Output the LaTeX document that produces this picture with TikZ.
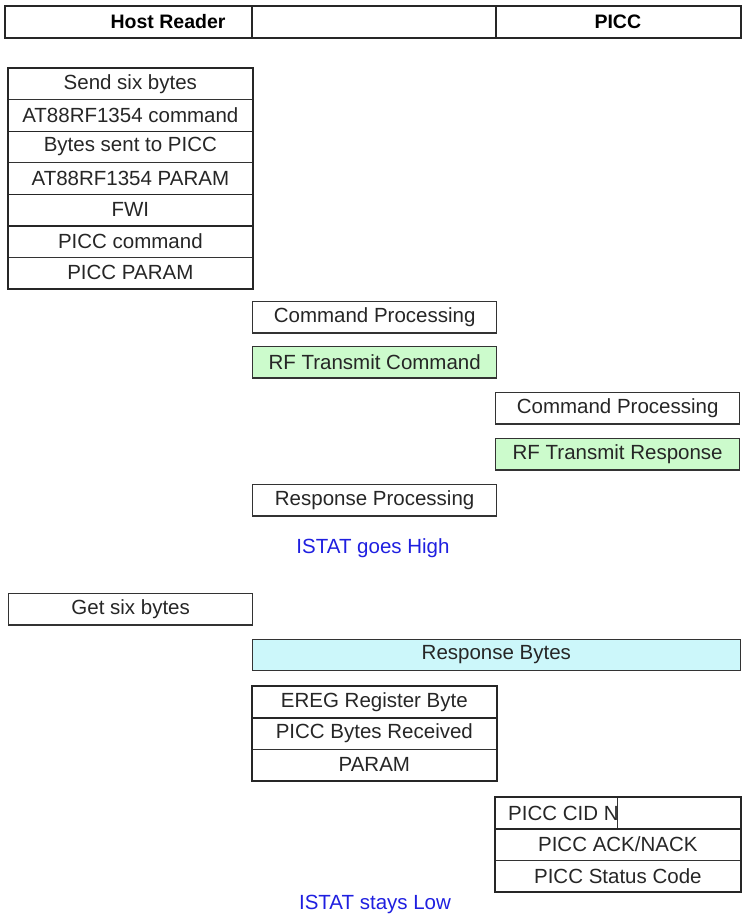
\documentclass[tikz,border=0pt]{standalone}
\usepackage{fontspec}
\setmainfont{Liberation Sans}
\begin{document}
\begin{tikzpicture}[x=1pt,y=-1pt,font=\fontsize{20.5}{23}\selectfont,
  cell/.style={draw=black!80,line width=0.7pt,anchor=north west,inner sep=0pt,
    minimum height=31.4pt,minimum width=244pt,text=black!85},
  widecell/.style={cell,minimum width=488pt},
  frame/.style={draw=black!85,line width=1.8pt},
  single/.style={cell,line width=1.3pt},
  note/.style={text=istat}]
  \definecolor{txgreen}{HTML}{CCFBCC}
  \definecolor{rxcyan}{HTML}{CCF7FA}
  \definecolor{istat}{HTML}{1F1FE0}
  \path[use as bounding box] (0,0) rectangle (745,915);
  % header bar
  \node[cell,minimum width=247pt,minimum height=31pt] (hdhost) at (5,6) {};
  \node[cell,minimum width=243pt,minimum height=31pt] (hdmid) at (252,6) {};
  \node[cell,minimum width=245pt,minimum height=31pt] (hdpicc) at (495,6) {};
  \draw[frame] (hdhost.north west) rectangle (hdpicc.south east);
  \draw[frame] (hdmid.north west) -- (hdmid.south west);
  \draw[frame] (hdmid.north east) -- (hdmid.south east);
  \node[anchor=east,font=\bfseries\fontsize{19.5}{22}\selectfont] (hostlbl) at (229,21.5) {Host Reader};
  \node[font=\bfseries\fontsize{19.5}{22}\selectfont] (picclbl) at (hdpicc.center) {PICC};
  % host command bytes
  \node[cell] (sendsix) at (8,68) {Send six bytes};
  \node[cell] (rfcmd) at (8,99.4) {AT88RF1354 command};
  \node[cell] (sentpicc) at (8,130.9) {Bytes sent to PICC};
  \node[cell] (rfparam) at (8,162.3) {AT88RF1354 PARAM};
  \node[cell] (fwi) at (8,193.7) {FWI};
  \node[cell] (picccmd) at (8,225.1) {PICC command};
  \node[cell] (piccparam) at (8,256.6) {PICC PARAM};
  \draw[frame] (sendsix.north west) rectangle (piccparam.south east);
  \draw[frame] (rfcmd.south west) -- (rfcmd.south east);
  \draw[frame] (rfparam.south west) -- (rfparam.south east);
  \draw[frame] (fwi.south west) -- (fwi.south east);
  % processing and RF exchange
  \node[single] (cmdproc) at (252,301) {Command Processing};
  \node[single,fill=txgreen] (rftxcmd) at (252,346) {RF Transmit Command};
  \node[single] (piccproc) at (495,392) {Command Processing};
  \node[single,fill=txgreen] (rftxresp) at (495,438) {RF Transmit Response};
  \node[single] (respproc) at (252,484) {Response Processing};
  \node[note] (istathigh) at (373,548) {ISTAT goes High};
  % host reads back
  \node[single] (getsix) at (8,593) {Get six bytes};
  \node[single,widecell,fill=rxcyan] (respbytes) at (252,639) {Response Bytes};
  \node[cell] (ereg) at (252,686) {EREG Register Byte};
  \node[cell] (piccrx) at (252,717.4) {PICC Bytes Received};
  \node[cell] (param) at (252,748.8) {PARAM};
  \draw[frame] (ereg.north west) rectangle (param.south east);
  \draw[frame] (ereg.south west) -- (ereg.south east);
  \node[cell,minimum width=245pt] (cid) at (495,797) {};
  \node[anchor=east,inner sep=0pt,text=black!85] (cidlbl) at ([xshift=1pt]cid.center) {PICC CID N};
  \draw[line width=0.9pt,black!80] (cid.north) -- (cid.south);
  \node[cell,minimum width=245pt] (ack) at (495,828.4) {PICC ACK/NACK};
  \node[cell,minimum width=245pt] (status) at (495,859.8) {PICC Status Code};
  \draw[frame] (cid.north west) rectangle (status.south east);
  \draw[frame] (cid.south west) -- (cid.south east);
  \node[note] (istatlow) at (375,904) {ISTAT stays Low};
\end{tikzpicture}
\end{document}
